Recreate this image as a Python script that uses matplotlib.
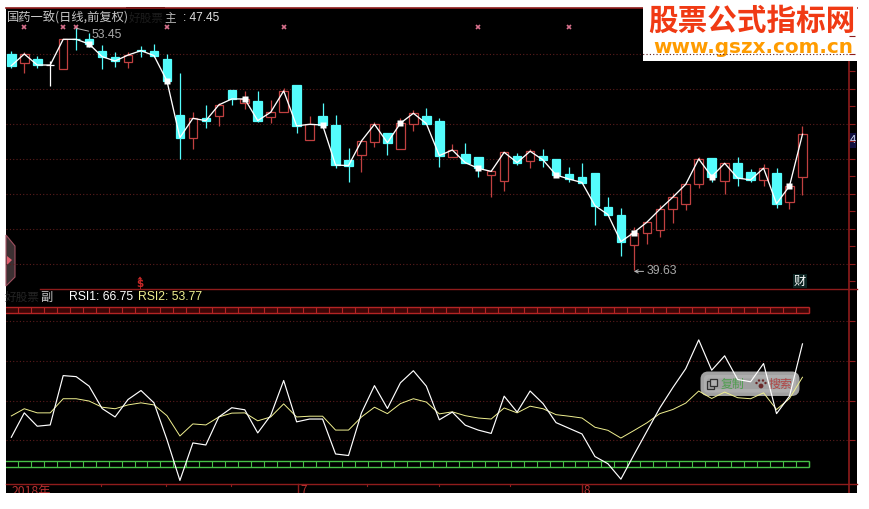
import matplotlib
matplotlib.use('Agg')
import matplotlib.pyplot as plt
from matplotlib.patches import Rectangle, FancyBboxPatch, Polygon, Circle

plt.rcParams['font.family'] = ['Noto Sans CJK SC', 'DejaVu Sans']

opens = [51.98, 51.45, 51.70, 51.35, 51.14, 52.84, 52.84, 52.15, 51.83, 51.54, 52.19, 52.15,
         51.70, 48.49, 47.16, 48.32, 48.46, 49.92, 49.20, 49.29, 48.40, 48.68, 50.21, 47.05,
         48.44, 47.92, 45.92, 46.19, 46.97, 47.45, 46.53, 48.00, 48.44, 48.15, 46.11, 46.26,
         46.07, 45.04, 44.74, 46.15, 45.88, 46.15, 45.98, 45.12, 44.95, 45.18, 43.23, 42.78,
         41.08, 41.73, 41.90, 43.10, 43.39, 44.53, 46.02, 44.74, 45.73, 45.24, 44.80, 45.18,
         43.50, 44.93]
highs = [52.15, 52.11, 51.87, 51.58, 52.82, 53.45, 53.16, 52.50, 52.11, 52.11, 52.44, 52.55,
         51.98, 50.88, 48.68, 49.07, 49.16, 49.92, 49.89, 49.89, 49.35, 50.02, 50.21, 48.44,
         49.16, 48.49, 46.59, 47.01, 48.07, 47.45, 48.30, 48.78, 48.87, 48.30, 46.82, 46.87,
         46.07, 45.27, 46.36, 46.30, 46.53, 46.55, 45.98, 45.50, 45.73, 45.18, 43.79, 43.16,
         42.07, 42.36, 43.35, 44.05, 44.53, 46.07, 46.02, 45.73, 46.07, 45.41, 45.69, 45.45,
         44.43, 47.87]
lows = [51.18, 50.88, 51.18, 50.17, 51.14, 52.21, 52.36, 51.11, 51.26, 51.16, 51.79, 51.83,
        50.30, 45.99, 46.57, 47.77, 47.88, 49.07, 48.86, 48.11, 48.06, 48.68, 47.48, 47.05,
        47.83, 45.44, 44.68, 45.25, 46.68, 46.21, 46.53, 47.60, 48.00, 45.54, 46.11, 45.73,
        44.97, 43.82, 44.17, 45.64, 45.48, 45.54, 45.06, 44.68, 44.59, 42.22, 42.80, 40.45,
        39.63, 41.14, 41.54, 42.34, 43.06, 44.34, 44.68, 43.99, 44.45, 44.64, 44.45, 43.19,
        43.12, 43.93]
closes = [51.31, 51.98, 51.35, 51.35, 52.82, 52.82, 52.55, 51.83, 51.58, 51.92, 52.17, 51.89,
          50.44, 47.20, 48.30, 48.17, 49.07, 49.41, 49.41, 48.17, 48.65, 49.87, 47.87, 47.96,
          47.92, 45.63, 45.60, 47.01, 47.96, 46.91, 48.02, 48.59, 48.00, 46.17, 46.49, 45.77,
          45.44, 45.27, 46.36, 45.77, 46.42, 45.92, 45.06, 44.83, 44.63, 43.31, 42.80, 41.25,
          41.77, 42.36, 43.10, 43.79, 44.53, 45.98, 44.97, 45.73, 44.89, 44.78, 45.45, 43.42,
          44.43, 47.39]
rsi1 = [30.4, 39.9, 34.7, 35.2, 54.4, 54.0, 50.3, 41.6, 38.3, 45.1, 48.6, 43.8,
        29.5, 13.6, 28.2, 27.4, 38.3, 41.9, 41.1, 32.1, 38.9, 52.5, 36.4, 37.5,
        37.5, 23.9, 23.3, 39.9, 50.5, 41.6, 51.6, 56.3, 50.3, 37.2, 40.2, 35.1,
        33.2, 31.9, 46.4, 40.2, 48.4, 43.5, 36.1, 33.9, 31.7, 22.9, 20.1, 14.1,
        23.5, 32.7, 41.8, 49.7, 57.1, 68.3, 56.5, 62.1, 52.9, 52.0, 59.1, 39.6,
        46.4, 66.75]
rsi2 = [38.7, 41.5, 39.9, 39.9, 45.4, 45.4, 44.5, 42.1, 41.5, 43.0, 43.8, 43.0,
        38.8, 30.9, 35.6, 35.2, 38.3, 39.8, 39.9, 36.8, 38.3, 43.4, 38.3, 38.6,
        38.6, 33.2, 33.2, 38.3, 42.1, 39.6, 43.5, 45.4, 44.1, 39.5, 40.3, 38.8,
        37.9, 37.5, 41.8, 39.9, 42.5, 41.5, 39.2, 38.6, 37.9, 34.3, 33.1, 30.1,
        33.0, 36.0, 39.6, 41.2, 43.7, 48.4, 45.5, 48.0, 45.8, 45.4, 47.7, 41.2,
        45.5, 53.77]
star_days = [1, 4, 5, 12, 21, 36, 43]
dot_days = [6, 12, 18, 24, 30, 36, 42, 48, 54, 60]
price_grid = [52, 50, 48, 46, 44, 42, 40]
price_ticks = [53, 52, 51, 50, 49, 48, 47, 46, 45, 44, 43, 42, 41, 40, 39]
rsi_grid = [75.7, 60.1, 44.4, 29.2]
rsi_high, rsi_low = 80, 20
high_label, low_label = '53.45', '39.63'
main_label = '国药一致(日线,前复权)'

W, H = 870, 509
CYAN = '#54fcfc'
RED = '#c04040'
BORDER = '#8f1c1c'
GRID = '#5c1c1c'
days = list(range(len(closes)))

fig = plt.figure(figsize=(W / 100, H / 100), dpi=100, facecolor='white')

# page axes in pixels, for the frame and the bits of screen furniture
page = fig.add_axes([0, 0, 1, 1])
page.set_xlim(0, W)
page.set_ylim(H, 0)
page.axis('off')
page.add_patch(Rectangle((6, 8), 851, 485, fc='black', ec='none', zorder=0))
page.add_patch(Rectangle((126, 6.5), 39, 3, fc='black', ec='none', zorder=0))
page.plot([6, 857], [8, 8], color=BORDER, lw=1.2, zorder=1)
page.plot([40, 857], [288.5, 288.5], color=BORDER, lw=1.0, zorder=1)
page.plot([6, 857], [483.5, 483.5], color=BORDER, lw=1.0, zorder=1)
page.plot([849.5, 849.5], [8, 493], color=BORDER, lw=1.2, zorder=1)


def pane(top, bottom):
    ax = fig.add_axes([6 / W, 1 - bottom / H, (849 - 6) / W, (bottom - top) / H])
    ax.patch.set_alpha(0)
    ax.set_xlim((6 - 11.3) / 12.97, (849 - 11.3) / 12.97)
    for s in ax.spines.values():
        s.set_visible(False)
    ax.set_xticks([])
    ax.yaxis.tick_right()
    ax.tick_params(axis='y', colors=BORDER, length=4, width=0.8, labelright=False)
    return ax


# price pane
ax = pane(8, 288)
ax.set_ylim(38.60, 54.61)
ax.set_yticks(price_ticks)
for g in price_grid:
    ax.axhline(g, color=GRID, lw=0.8, ls=(0, (1, 2)), zorder=1)

for i in days:
    if closes[i] > opens[i]:
        c, face = RED, 'black'
    elif closes[i] < opens[i]:
        c, face = CYAN, CYAN
    else:
        c, face = 'white', 'white'
    ax.vlines(i, lows[i], highs[i], color=c, lw=0.9, zorder=2)
    ax.bar(i, abs(closes[i] - opens[i]), bottom=min(opens[i], closes[i]), width=0.66,
           facecolor=face, edgecolor=c, linewidth=0.9, zorder=3)

ax.plot(days, closes, color='white', lw=0.95, zorder=4)
ax.plot(dot_days, [closes[i] for i in dot_days], ls='none', marker='s', ms=4.0,
        color='white', mec='none', zorder=5)
ax.plot(star_days, [53.5] * len(star_days), ls='none', marker='x', ms=3.5, mew=1.2,
        color='#d8708c', zorder=3)

hi = days[highs.index(max(highs))]
lo = days[lows.index(min(lows))]
ax.annotate(high_label, xy=(hi, max(highs)), xytext=(11, -5), textcoords='offset points',
            color='#a8a8a8', fontsize=8.8, family='Liberation Sans', va='center',
            arrowprops=dict(arrowstyle='-', color='#b8b8b8', lw=0.7, shrinkA=0, shrinkB=0))
ax.annotate(low_label, xy=(lo, min(lows) - 0.08), xytext=(9, 0), textcoords='offset points',
            color='#a8a8a8', fontsize=8.8, family='Liberation Sans', va='center',
            arrowprops=dict(arrowstyle='->', color='#b8b8b8', lw=0.7, shrinkA=0, shrinkB=0,
                            mutation_scale=6))

# RSI pane
ax2 = pane(288, 483)
ax2.set_ylim(12.6, 88.5)
ax2.set_yticks(rsi_grid)
for g in rsi_grid:
    ax2.axhline(g, color=GRID, lw=0.8, ls=(0, (1, 2)), zorder=1)

for level, line, fill in [(rsi_high, '#b42424', '#3c0606'), (rsi_low, '#46c046', 'black')]:
    ax2.fill_between([-0.9, 61.5], level - 1.15, level + 1.15, color=fill, lw=0, zorder=2)
    ax2.hlines([level - 1.15, level + 1.15], -0.9, 61.5, color=line, lw=1.0, zorder=3)
    ax2.vlines([d + 0.5 for d in days], level - 1.15, level + 1.15, color=line, lw=0.8, zorder=3)
    ax2.vlines(61.5, level - 1.15, level + 1.15, color=line, lw=1.0, zorder=3)

ax2.plot(days, rsi2, color='#f0f090', lw=0.7, zorder=4)
ax2.plot(days, rsi1, color='white', lw=0.85, zorder=5)

# header texts
page.text(7, 18, main_label, color='#c8c8c8', fontsize=8.8, va='center', zorder=6)
page.text(129, 18, '好股票', color='#1c1c1c', fontsize=8.4, va='center', zorder=6)
page.text(164, 18, '主', color='#b8b8b8', fontsize=8.4, va='center', zorder=6)
page.text(183, 18, ': 47.45', color='#e0e0e0', fontsize=8.6, family='Liberation Sans', va='center', zorder=6)
page.text(5, 297, '好股票', color='#242424', fontsize=8.4, va='center', zorder=6)
page.text(40, 297, '副', color='#c8c8c8', fontsize=8.8, va='center', zorder=6)
page.text(69, 297, 'RSI1: 66.75', color='white', fontsize=8.7, family='Liberation Sans', va='center', zorder=6)
page.text(138, 297, 'RSI2: 53.77', color='#f0f090', fontsize=8.7, family='Liberation Sans', va='center', zorder=6)

# signal glyphs, right side price tag
page.text(140, 284, '$', color='#c82828', fontsize=7.5, fontweight='bold', family='DejaVu Sans',
          ha='center', va='center', zorder=6)
page.add_patch(Polygon([(137.5, 279.5), (140, 276.5), (142.5, 279.5)], closed=True, fc='#c82828', ec='none', zorder=6))
page.text(800, 281, '财', color='white', fontsize=8.8, ha='center', va='center', zorder=6,
          bbox=dict(fc='#0c2422', ec='none', pad=0.4))
page.add_patch(Rectangle((850, 133), 6.5, 15, fc='#101040', ec='none', zorder=6))
page.text(853.3, 140, '4', color='#d8e8ff', fontsize=8, family='Liberation Sans', ha='center',
          va='center', zorder=7)

# left tab
page.add_patch(Polygon([(6, 235), (15, 246), (15, 277), (6, 286)], closed=True,
                       fc='#3c3032', ec='#a05060', lw=0.8, zorder=6))
page.add_patch(Polygon([(7, 256), (12, 260), (7, 265)], closed=True, fc='#e06070', ec='none', zorder=7))

# date axis
page.plot([298, 298], [484, 493], color=BORDER, lw=1.0, zorder=1)
page.plot([582, 582], [484, 493], color=BORDER, lw=1.0, zorder=1)
for tx in [101, 166, 231, 367, 439, 510]:
    page.plot([tx, tx], [484, 486], color=BORDER, lw=0.8, zorder=1)
page.text(12, 491.5, '2018年', color='#b83030', fontsize=8.8, va='center', zorder=6)
page.text(300, 491, '7', color='#b83030', fontsize=8.4, va='center', zorder=6)
page.text(584, 491, '8', color='#b83030', fontsize=8.4, va='center', zorder=6)
page.add_patch(Rectangle((0, 493), W, 16, fc='white', ec='none', zorder=8))

# copy / search popup
page.add_patch(FancyBboxPatch((704, 375), 92, 17.5, boxstyle='round,pad=0,rounding_size=4',
                              mutation_aspect=1, fc='#b0b0b0', ec='#b0b0b0', lw=5, alpha=0.92, zorder=9))
page.add_patch(Rectangle((707.5, 381), 7, 7.5, fc='none', ec='#303030', lw=0.9, zorder=10))
page.add_patch(Rectangle((710.5, 378.5), 7, 7.5, fc='#b0b0b0', ec='#303030', lw=0.9, zorder=10))
page.text(721, 384, '复制', color='#4f9f4f', fontsize=8.6, va='center', zorder=10)
page.text(769, 384, '搜索', color='#b04848', fontsize=8.6, va='center', zorder=10)
for px_, py_, r_ in [(761, 386, 2.4), (756.5, 383, 1.2), (759, 380.5, 1.2), (763, 380.5, 1.2), (765.5, 383, 1.2)]:
    page.add_patch(Circle((px_, py_), r_, fc='#6a2828', ec='none', zorder=10))

# watermark
page.add_patch(Rectangle((643, 0), 214, 61, fc='white', ec='none', zorder=9))
page.text(752, 21, '股票公式指标网', color='#f03a14', fontsize=21.3, fontweight='bold',
          ha='center', va='center', zorder=10)
page.text(753, 47.5, 'www.gszx.com.cn', color='#ff9c00', fontsize=14.4, fontweight='bold',
          family='DejaVu Sans', ha='center', va='center', zorder=10)

fig.savefig('out.png', dpi=100, facecolor='white')
